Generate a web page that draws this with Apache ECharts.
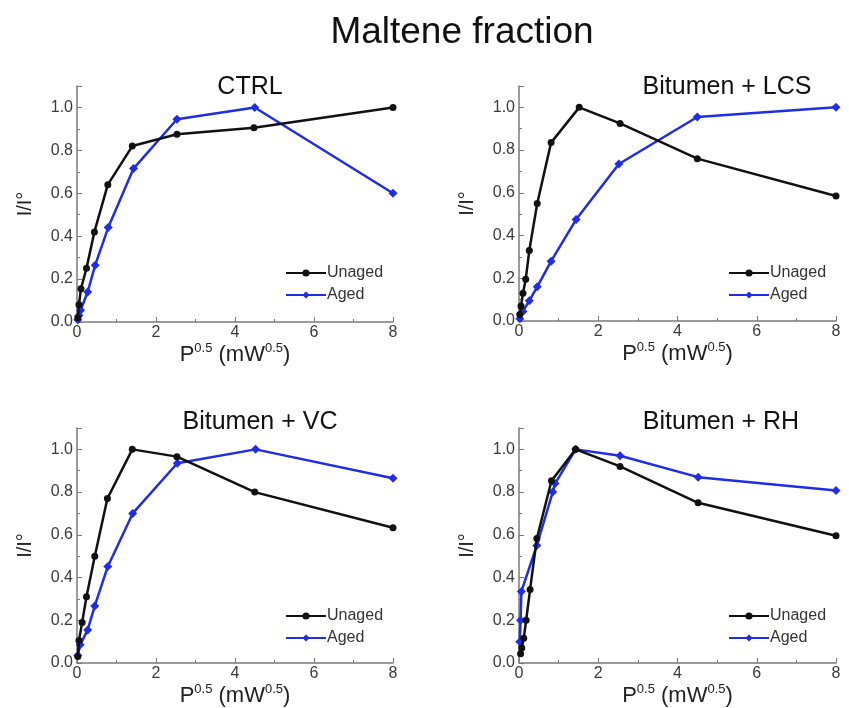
<!DOCTYPE html>
<html>
<head>
<meta charset="utf-8">
<script src="https://cdn.jsdelivr.net/npm/echarts@6/dist/echarts.min.js"></script>
<style>
  html, body { margin: 0; padding: 0; background: #fff; }
  #main { width: 849px; height: 708px; }
</style>
</head>
<body>
<div id="main"></div>
<script>
// data: [P^0.5, I/I°]
var ctrlUnaged = [[0.02,0.02],[0.05,0.08],[0.1,0.155],[0.24,0.25],[0.44,0.42],[0.78,0.64],[1.4,0.82],[2.53,0.875],[4.48,0.905],[8,1.0]];
var ctrlAged   = [[0.02,0.01],[0.05,0.03],[0.09,0.055],[0.27,0.14],[0.46,0.265],[0.79,0.44],[1.43,0.715],[2.53,0.945],[4.5,1.0],[8,0.6]];
var lcsUnaged  = [[0.02,0.03],[0.05,0.07],[0.1,0.13],[0.17,0.195],[0.26,0.33],[0.46,0.55],[0.81,0.835],[1.52,1.0],[2.55,0.925],[4.5,0.76],[8,0.585]];
var lcsAged    = [[0.02,0.01],[0.1,0.045],[0.26,0.095],[0.46,0.16],[0.81,0.28],[1.44,0.475],[2.52,0.735],[4.5,0.955],[8,1.0]];
var vcUnaged   = [[0.02,0.03],[0.05,0.105],[0.13,0.19],[0.24,0.31],[0.45,0.5],[0.77,0.77],[1.4,1.0],[2.53,0.966],[4.5,0.8],[8,0.633]];
var vcAged     = [[0.02,0.035],[0.08,0.085],[0.27,0.155],[0.45,0.267],[0.78,0.452],[1.41,0.7],[2.54,0.935],[4.52,1.0],[8,0.865]];
var rhUnaged   = [[0.04,0.043],[0.07,0.07],[0.12,0.116],[0.18,0.2],[0.28,0.344],[0.45,0.583],[0.82,0.853],[1.43,1.0],[2.55,0.92],[4.52,0.75],[8,0.596]];
var rhAged     = [[0.02,0.1],[0.04,0.2],[0.06,0.335],[0.45,0.55],[0.85,0.8],[0.91,0.84],[1.43,1.0],[2.55,0.97],[4.52,0.87],[8,0.807]];

var panelTitles = ['CTRL', 'Bitumen + LCS', 'Bitumen + VC', 'Bitumen + RH'];
var panelData = [[ctrlUnaged, ctrlAged], [lcsUnaged, lcsAged], [vcUnaged, vcAged], [rhUnaged, rhAged]];
var seriesNames = ['Unaged', 'Aged'];
var xTicks = [0, 8, 2];
var yTicks = [0, 1.1, 0.2];

var grids = [
  {left: 77, top: 86, width: 316, height: 236},
  {left: 519, top: 86, width: 317, height: 235},
  {left: 77, top: 428, width: 316, height: 238},
  {left: 519, top: 428, width: 317, height: 238}
];
var titlePos = [[245, 70], [722, 70], [255, 405], [716, 405]];
var legendPos = [[280, 260], [723, 260], [280, 603], [723, 603]];
var colors = ['#111111', '#1f2de6'];
var symbols = ['circle', 'diamond'];

var axisGray = '#7a7a7a';
var labelColor = '#3a3a3a';
var fontFam = 'Liberation Sans, Arial, sans-serif';

var option = {
  backgroundColor: '#fff',
  animation: false,
  title: [{
    text: 'Maltene fraction', left: 457, top: 9, textAlign: 'center',
    textStyle: {fontSize: 37, fontWeight: 'normal', color: '#111', fontFamily: fontFam}
  }],
  grid: [], xAxis: [], yAxis: [], legend: [], series: []
};

for (var i = 0; i < 4; i++) {
  option.grid.push(grids[i]);
  option.title.push({
    text: panelTitles[i], left: titlePos[i][0], top: titlePos[i][1], textAlign: 'center',
    textStyle: {fontSize: 25, fontWeight: 'normal', color: '#111', fontFamily: fontFam}
  });
  option.xAxis.push({
    type: 'value', gridIndex: i, min: xTicks[0], max: xTicks[1], interval: xTicks[2],
    name: '{b|P}{s|0.5}{b| (mW}{s|0.5}{b|)}', nameLocation: 'middle', nameGap: 20,
    nameTextStyle: {
      fontFamily: fontFam, color: '#222',
      rich: {
        b: {fontSize: 22, color: '#222', fontFamily: fontFam, lineHeight: 24, verticalAlign: 'bottom'},
        s: {fontSize: 13, color: '#222', fontFamily: fontFam, lineHeight: 24, verticalAlign: 'top', padding: [0, 0, 6, 0]}
      }
    },
    axisLine: {onZero: false, lineStyle: {color: axisGray, width: 1.5}},
    axisTick: {inside: true, length: 5, lineStyle: {color: axisGray}},
    minorTick: {show: true, splitNumber: 2, length: 3, lineStyle: {color: axisGray}},
    splitLine: {show: false},
    axisLabel: {fontSize: 16, color: labelColor, fontFamily: fontFam, margin: 3}
  });
  option.yAxis.push({
    type: 'value', gridIndex: i, min: yTicks[0], max: yTicks[1], interval: yTicks[2],
    name: 'I/I°', nameLocation: 'middle', nameGap: 42, nameRotate: 90,
    nameTextStyle: {fontSize: 20, color: '#222', fontFamily: fontFam},
    axisLine: {onZero: false, lineStyle: {color: axisGray, width: 1.5}},
    axisTick: {inside: true, length: 5, lineStyle: {color: axisGray}},
    minorTick: {show: true, splitNumber: 2, length: 3, lineStyle: {color: axisGray}},
    splitLine: {show: false},
    axisLabel: {
      fontSize: 16, color: labelColor, fontFamily: fontFam, margin: 4, showMaxLabel: false,
      formatter: function (v) { return v.toFixed(1); }
    }
  });
  option.legend.push({
    left: legendPos[i][0], top: legendPos[i][1], orient: 'vertical',
    itemWidth: 40, itemHeight: 9, itemGap: 6,
    textStyle: {fontSize: 16, color: '#333', fontFamily: fontFam, padding: [0, 0, 0, -4]},
    data: [
      {name: seriesNames[0] + '_' + i},
      {name: seriesNames[1] + '_' + i}
    ],
    formatter: function (n) { return n.split('_')[0]; }
  });
  for (var s = 0; s < 2; s++) {
    option.series.push({
      name: seriesNames[s] + '_' + i,
      type: 'line', xAxisIndex: i, yAxisIndex: i,
      data: panelData[i][s],
      symbol: symbols[s], symbolSize: s === 0 ? 7 : 9,
      lineStyle: {color: colors[s], width: 2.5},
      itemStyle: {color: colors[s]},
      z: s === 0 ? 3 : 2
    });
  }
}

var chart = echarts.init(document.getElementById('main'), null, {renderer: 'canvas'});
chart.setOption(option);
</script>
</body>
</html>
